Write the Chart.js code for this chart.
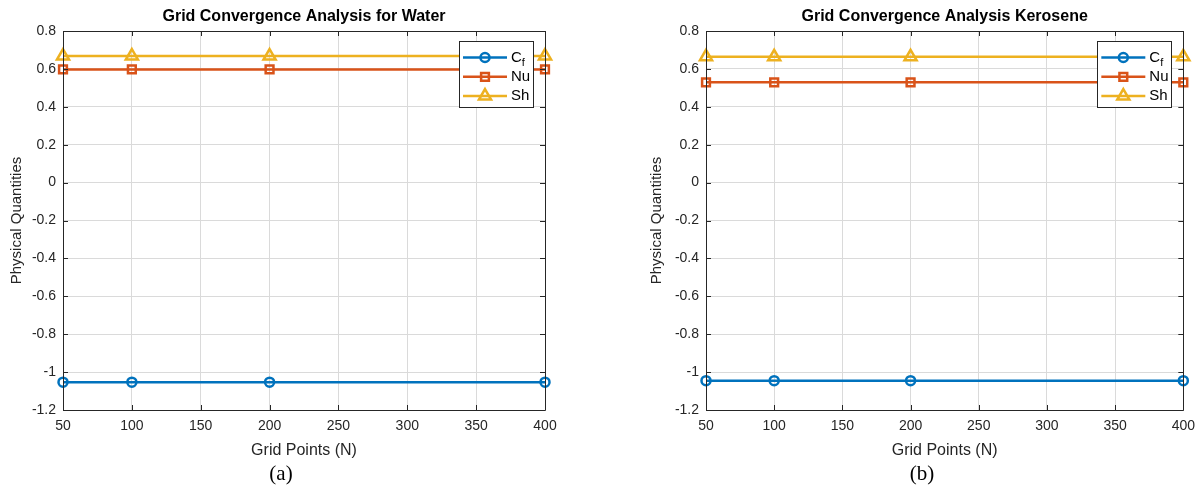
<!DOCTYPE html>
<html>
<head>
<meta charset="utf-8">
<script src="https://cdn.jsdelivr.net/npm/chart.js@4.4.1/dist/chart.umd.min.js"></script>
<style>
  body { margin: 0; background: #fff; width: 1203px; height: 491px; overflow: hidden; position: relative; }
  .panel { position: absolute; top: 0; }
  .caption { position: absolute; top: 461px; font-family: "Liberation Serif", "DejaVu Serif", serif; font-size: 21px; color: #000; transform: translateX(-50%); }
</style>
</head>
<body>
<div class="panel" style="left:0;width:600px;height:491px"><canvas id="waterChart" width="600" height="491"></canvas></div>
<div class="panel" style="left:640px;width:563px;height:491px"><canvas id="keroChart" width="563" height="491"></canvas></div>
<div class="caption" style="left:281px">(a)</div>
<div class="caption" style="left:922px">(b)</div>
<script>
// ---- data ----
const gridPoints = [50, 100, 200, 400];
const waterCf = [-1.053, -1.053, -1.053, -1.053];
const waterNu = [0.597, 0.597, 0.597, 0.597];
const waterSh = [0.668, 0.668, 0.668, 0.668];
const keroCf = [-1.045, -1.045, -1.045, -1.045];
const keroNu = [0.529, 0.529, 0.529, 0.529];
const keroSh = [0.664, 0.664, 0.664, 0.664];
const xTicks = [50, 100, 150, 200, 250, 300, 350, 400];
const yTicks = [-1.2, -1, -0.8, -0.6, -0.4, -0.2, 0, 0.2, 0.4, 0.6, 0.8];

const colors = { cf: '#0072BD', nu: '#D95319', sh: '#EDB120' };
const axisColor = '#262626';
const sans = "'Liberation Sans', Arial, Helvetica, sans-serif";

const series = [
  { key: 'cf', label: 'C', sub: 'f', style: 'circle', radius: 4.5 },
  { key: 'nu', label: 'Nu', sub: '', style: 'rect', radius: 5.5 },
  { key: 'sh', label: 'Sh', sub: '', style: 'triangle', radius: 7 }
];

// matlab-ish frame, inner ticks, title and legend
const framePlugin = {
  id: 'frame',
  afterDraw(chart, args, opts) {
    const { ctx, chartArea: a, scales } = chart;
    ctx.save();
    ctx.strokeStyle = axisColor;
    ctx.lineWidth = 1;
    ctx.beginPath();
    ctx.rect(Math.round(a.left) + 0.5, Math.round(a.top) + 0.5, Math.round(a.right - a.left), Math.round(a.bottom - a.top));
    ctx.stroke();
    // inner ticks
    ctx.beginPath();
    xTicks.forEach(v => {
      const x = Math.round(scales.x.getPixelForValue(v)) + 0.5;
      ctx.moveTo(x, a.bottom); ctx.lineTo(x, a.bottom - 5);
      ctx.moveTo(x, a.top); ctx.lineTo(x, a.top + 5);
    });
    yTicks.forEach(v => {
      const y = Math.round(scales.y.getPixelForValue(v)) + 0.5;
      ctx.moveTo(a.left, y); ctx.lineTo(a.left + 5, y);
      ctx.moveTo(a.right, y); ctx.lineTo(a.right - 5, y);
    });
    ctx.stroke();

    // title
    ctx.fillStyle = '#000';
    ctx.font = 'bold 16px ' + sans;
    ctx.textAlign = 'center';
    ctx.textBaseline = 'middle';
    ctx.fillText(opts.title, (a.left + a.right) / 2, 17);

    // legend
    const w = 74, h = 66;
    const lx = a.right - 12 - w, ly = a.top + 10;
    ctx.fillStyle = '#fff';
    ctx.fillRect(lx, ly, w, h);
    ctx.strokeStyle = axisColor;
    ctx.strokeRect(Math.round(lx) + 0.5, Math.round(ly) + 0.5, w, h);
    series.forEach((s, i) => {
      const y = ly + 16.5 + i * 19.3;
      const c = colors[s.key];
      ctx.strokeStyle = c;
      ctx.lineWidth = 2.5;
      ctx.beginPath();
      ctx.moveTo(lx + 4, y); ctx.lineTo(lx + 48, y);
      ctx.stroke();
      ctx.fillStyle = 'rgba(0,0,0,0)';
      Chart.helpers.drawPoint(ctx, { pointStyle: s.style, radius: s.radius, borderWidth: 2.5, rotation: 0 }, lx + 26, y);
      ctx.fillStyle = '#000';
      ctx.font = '15px ' + sans;
      ctx.textAlign = 'left';
      ctx.fillText(s.label, lx + 52, y);
      if (s.sub) {
        const tw = ctx.measureText(s.label).width;
        ctx.font = '11px ' + sans;
        ctx.fillText(s.sub, lx + 52 + tw, y + 5);
      }
    });
    ctx.restore();
  }
};

function makeChart(id, title, cf, nu, sh, yAxisWidth, padRight) {
  const values = { cf, nu, sh };
  return new Chart(document.getElementById(id), {
    type: 'line',
    data: {
      datasets: series.map(s => ({
        label: s.label + s.sub,
        data: gridPoints.map((g, i) => ({ x: g, y: values[s.key][i] })),
        borderColor: colors[s.key],
        backgroundColor: 'rgba(0,0,0,0)',
        borderWidth: 2.5,
        pointStyle: s.style,
        pointRadius: s.radius,
        pointBorderWidth: 2.5,
        pointBorderColor: colors[s.key],
        pointBackgroundColor: 'rgba(0,0,0,0)',
        tension: 0,
        clip: false
      }))
    },
    options: {
      responsive: false,
      animation: false,
      events: [],
      layout: { padding: { top: 31, right: padRight, bottom: 31, left: 0 } },
      plugins: {
        legend: { display: false },
        tooltip: { enabled: false },
        frame: { title }
      },
      scales: {
        x: {
          type: 'linear',
          min: 50,
          max: 400,
          afterBuildTicks: (scale) => { scale.ticks = xTicks.map(v => ({ value: v })); },
          afterFit: (scale) => { scale.height = 50; },
          grid: { color: '#dadada', drawTicks: false },
          border: { display: false },
          ticks: { color: axisColor, font: { family: sans, size: 14 }, padding: 8, maxRotation: 0 },
          title: { display: true, text: 'Grid Points (N)', color: axisColor, font: { family: sans, size: 16 }, padding: { top: 2, bottom: 0 } }
        },
        y: {
          type: 'linear',
          min: -1.2,
          max: 0.8,
          afterBuildTicks: (scale) => { scale.ticks = yTicks.map(v => ({ value: v })); },
          afterFit: (scale) => { scale.width = yAxisWidth; },
          grid: { color: '#dadada', drawTicks: false },
          border: { display: false },
          ticks: { color: axisColor, font: { family: sans, size: 14 }, padding: 7, callback: (v) => String(Number(v.toFixed(1))) },
          title: { display: true, text: 'Physical Quantities', color: axisColor, font: { family: sans, size: 15 }, padding: { top: 8, bottom: 0 } }
        }
      }
    },
    plugins: [framePlugin]
  });
}

makeChart('waterChart', 'Grid Convergence Analysis for Water', waterCf, waterNu, waterSh, 63, 55);
makeChart('keroChart', 'Grid Convergence Analysis Kerosene', keroCf, keroNu, keroSh, 66, 15);
</script>
</body>
</html>
